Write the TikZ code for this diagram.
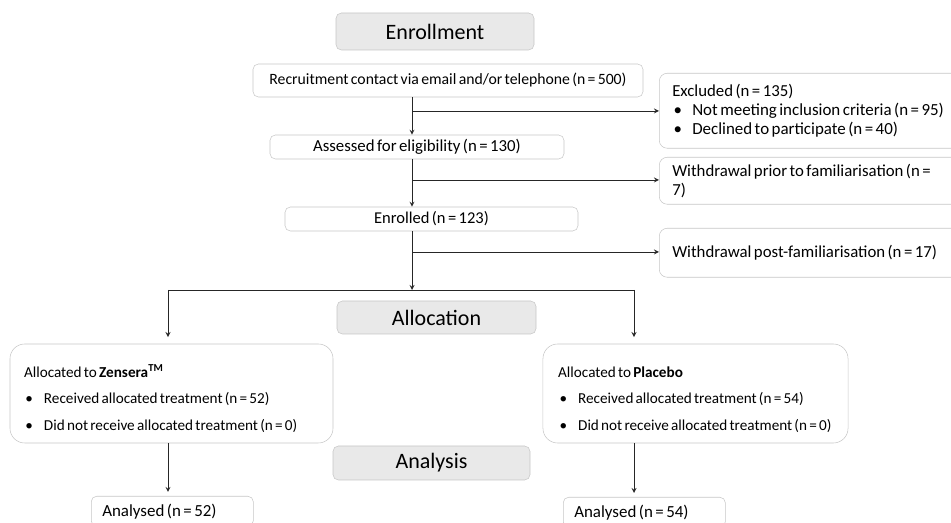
\documentclass[tikz,border=0pt]{standalone}
\usepackage{fontspec}
\setmainfont{Carlito}[WordSpace=0.65]
\definecolor{boxline}{HTML}{C6C6C6}
\definecolor{headfill}{HTML}{E9E9E9}
\newcommand{\bull}{\hspace*{1pt}\makebox[14pt][l]{\textbullet}}
\newcommand{\fs}[1]{\fontsize{#1}{14.25}\selectfont}

\begin{document}
\begin{tikzpicture}[x=0.75pt, y=-0.75pt,
    head/.style={draw=boxline, fill=headfill, rounded corners=4pt, inner sep=0pt,
      font=\fontsize{16.5}{18}\selectfont},
    stage/.style={draw=boxline, rounded corners=4pt, inner sep=0pt},
    side/.style={draw=boxline, rounded corners=6pt, anchor=north west, align=flush left,
      text width=213.75pt, inner xsep=9.75pt, inner ysep=0pt, font=\fs{12.6}},
    arm/.style={draw=boxline, rounded corners=11pt, align=flush left, inner ysep=0pt,
      minimum height=74.25pt, font=\fontsize{11.4}{20}\selectfont},
    result/.style={draw=boxline, rounded corners=4pt, anchor=north west, align=flush left,
      text width=105pt, inner xsep=8.25pt, inner ysep=0pt, minimum height=22.5pt,
      font=\fontsize{12.7}{14}\selectfont},
    link/.style={draw=black!85, line width=0.7pt}]
  \useasboundingbox (0,0) rectangle (951,523);

  % enrollment
  \node[head, minimum width=148.5pt, minimum height=27.75pt] (enroll) at (435,31.5) {Enrollment};
  \node[stage, minimum width=292.5pt, minimum height=24.75pt, font=\fs{11.8}] (recruit) at (448,80.5)
    {Recruitment contact via email and/or telephone (n = 500)};
  \node[stage, minimum width=220.5pt, minimum height=18pt, font=\fs{12.6}] (assess) at (417,147)
    {Assessed for eligibility (n = 130)};
  \node[stage, minimum width=219.75pt, minimum height=18pt, font=\fs{12.4}] (enrolled) at (431.5,219)
    {Enrolled (n = 123)};

  \node[side, minimum height=56.25pt] (excl) at (659,73)
    {Excluded (n = 135)\\
     {\fs{12.7}\bull Not meeting inclusion criteria (n = 95)}\\
     {\fs{12.7}\bull Declined to participate (n = 40)}};
  \node[side, minimum height=35.25pt] (prior) at (659,157)
    {Withdrawal prior to familiarisation (n =\\ 7)};
  \node[side, minimum height=36.75pt] (post) at (659,228)
    {Withdrawal post-familiarisation (n = 17)};

  % allocation
  \node[head, minimum width=149.25pt, minimum height=24.75pt] (alloc) at (436.5,317.5) {Allocation};
  \node[arm, text width=221.25pt, inner xsep=10.5pt] (zens) at (171.5,393.5)
    {\rule{0pt}{17pt}Allocated to \textbf{Zensera}\textsuperscript{\textbf{TM}}\\
     \bull Received allocated treatment (n = 52)\\
     \bull Did not receive allocated treatment (n = 0)};
  \node[arm, text width=206pt, inner xsep=11.4pt] (plac) at (695.5,393.5)
    {\rule{0pt}{17pt}Allocated to \textbf{Placebo}\\
     \bull Received allocated treatment (n = 54)\\
     \bull Did not receive allocated treatment (n = 0)};

  % analysis
  \node[head, minimum width=147.75pt, minimum height=25.5pt] (analys) at (431.5,463) {Analysis};
  \node[result] (an52) at (91,496) {Analysed (n = 52)};
  \node[result] (an54) at (563,497) {Analysed (n = 54)};

  \coordinate (s1) at (412,111);
  \coordinate (s2) at (412,180);
  \coordinate (s3) at (412,252);
  \coordinate (split) at (412,290);
  \coordinate (armL) at (168,290);
  \coordinate (armR) at (634,290);

  \draw[link, -stealth] (recruit.south -| s1) -- (assess.north -| s1);
  \draw[link, -stealth] (s1) -- (excl.west |- s1);
  \draw[link, -stealth] (assess.south -| s2) -- (enrolled.north -| s2);
  \draw[link, -stealth] (s2) -- (prior.west |- s2);
  \draw[link, -stealth] (enrolled.south -| s3) -- (split);
  \draw[link, -stealth] (s3) -- (post.west |- s3);
  \draw[link] (armL) -- (armR);
  \draw[link, -stealth, shorten >=5pt] (armL) -- (zens.north -| armL);
  \draw[link, -stealth, shorten >=5pt] (armR) -- (plac.north -| armR);
  \draw[link, -stealth, shorten >=3pt] (zens.south -| armL) -- (an52.north -| armL);
  \draw[link, -stealth, shorten >=3pt] (plac.south -| armR) -- (an54.north -| armR);
\end{tikzpicture}
\end{document}
